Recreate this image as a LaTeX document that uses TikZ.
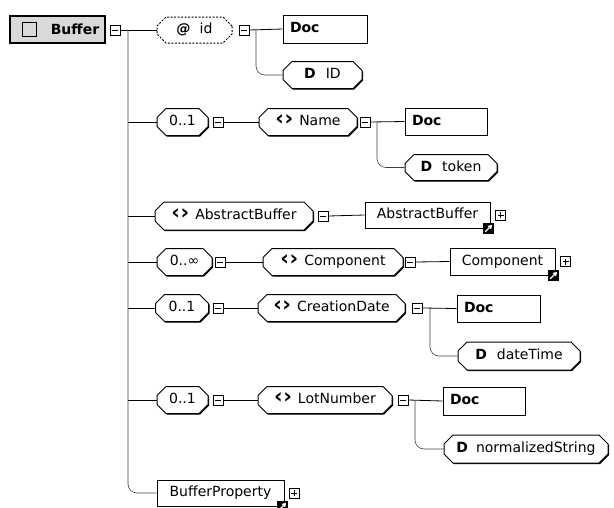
\documentclass[tikz,border=0pt]{standalone}
\usepackage{fontspec}
\setmainfont{DejaVu Sans}
\usetikzlibrary{shapes.misc,shadows,calc,arrows.meta}

% bold chevrons marking an element
\newcommand{\elmark}{{\fontsize{21}{21}\selectfont\bfseries ‹\kern0.5pt›}}

\begin{document}
\begin{tikzpicture}[x=1pt,y=-1pt,
  font=\fontsize{14}{16}\selectfont,
  edge/.style={draw=black, line width=0.8pt},
  branch/.style={draw=black!75, line width=0.6pt, rounded corners=9pt},
  base/.style={draw=black, line width=1pt, fill=white, inner sep=0pt,
    text height=10pt, text depth=2.5pt,
    drop shadow={shadow xshift=1pt, shadow yshift=-1pt, fill=black, opacity=1}},
  elem/.style={base, chamfered rectangle, chamfered rectangle xsep=4.5pt,
    chamfered rectangle ysep=4.5pt, minimum height=27pt},
  attr/.style={draw=black, line width=1pt, fill=white, inner sep=0pt,
    text height=10pt, text depth=2.5pt, dash pattern=on 2pt off 1.5pt,
    chamfered rectangle, chamfered rectangle xsep=4.5pt,
    chamfered rectangle ysep=4.5pt, minimum height=26pt},
  docbox/.style={base, rectangle, minimum height=28pt, align=left,
    inner xsep=7pt, font=\fontsize{14}{16}\selectfont\bfseries},
  refbox/.style={base, rectangle, minimum height=27pt},
  minusbox/.style={draw=black, line width=0.8pt, fill=white, minimum size=10pt,
    inner sep=0pt,
    path picture={\draw[line width=0.8pt]
      ([xshift=2pt]path picture bounding box.west) --
      ([xshift=-2pt]path picture bounding box.east);}},
  plusbox/.style={minusbox,
    path picture={\draw[line width=0.8pt]
      ([xshift=2pt]path picture bounding box.west) --
      ([xshift=-2pt]path picture bounding box.east)
      ([yshift=2pt]path picture bounding box.south) --
      ([yshift=-2pt]path picture bounding box.north);}},
  linkicon/.style={fill=black, minimum size=11pt, inner sep=0pt,
    path picture={\draw[white, line width=1.1pt, -{Triangle[length=4pt,width=4.5pt]}]
      ([shift={(2.2pt,2.2pt)}]path picture bounding box.south west) --
      ([shift={(-1.8pt,-1.8pt)}]path picture bounding box.north east);}},
  bufbox/.style={draw=black, line width=1.4pt, fill=black!15,
    minimum width=95pt, minimum height=27pt, inner sep=0pt},
  checkbox/.style={draw=black, line width=1pt, minimum size=14pt, inner sep=0pt},
]
\useasboundingbox (0,0) rectangle (614,507);

% root element
\node[bufbox] (buf) at (57.5,29.5) {};
\node[checkbox] (chk) at (29.5,29.5) {};
\node[font=\fontsize{14}{16}\selectfont\bfseries, inner sep=0pt] (buft) at (75,29.5) {Buffer};
\node[minusbox] (bm) at (115,30) {};
\coordinate (tr) at (128,30);

% attribute id
\node[attr, minimum width=75pt] (id) at (194.5,30) {\textbf{\textit{@}}\hspace{9pt}id};
\node[minusbox] (idm) at (244,30) {};
\node[docbox, text width=70pt] (doc1) at (325,29) {Doc};
\node[elem, minimum width=79pt] (did) at (322.5,75) {\textbf{D}\hspace{10pt}ID};
\coordinate (b1) at (256,30);

% Name
\node[elem, minimum width=51pt] (c2) at (182.5,122) {0..1};
\node[minusbox] (c2m) at (218,122) {};
\node[elem, minimum width=98pt] (name) at (308,122) {\elmark\hspace{6pt}Name};
\node[minusbox] (namem) at (365,122) {};
\node[docbox, text width=68pt, minimum height=27pt] (doc2) at (446,121.5) {Doc};
\node[elem, minimum width=92pt, minimum height=26pt] (dtok) at (451,167.5) {\textbf{D}\hspace{10pt}token};
\coordinate (b2) at (377,122);

% AbstractBuffer
\node[elem, minimum width=158pt, minimum height=28pt] (abs) at (234,216) {\elmark\hspace{6pt}AbstractBuffer};
\node[minusbox] (absm) at (323,216) {};
\node[refbox, minimum width=125pt, minimum height=26pt] (absref) at (427.5,215) {AbstractBuffer\hspace{6pt}};
\node[linkicon] (absl) at ([xshift=-2pt]absref.south east) {};
\node[plusbox] (absp) at ([xshift=10pt]absref.east) {};

% Component
\node[elem, minimum width=55pt] (c4) at (184.5,262) {0..∞};
\node[minusbox] (c4m) at (220,262) {};
\node[elem, minimum width=140pt] (comp) at (333,262) {\elmark\hspace{6pt}Component};
\node[minusbox] (compm) at (410,262) {};
\node[refbox, minimum width=105pt] (compref) at (502.5,261.5) {Component\hspace{6pt}};
\node[linkicon] (compl) at ([xshift=-2pt]compref.south east) {};
\node[plusbox] (compp) at ([xshift=10pt]compref.east) {};

% CreationDate
\node[elem, minimum width=53pt] (c5) at (182,308) {0..1};
\node[minusbox] (c5m) at (218,308) {};
\node[elem, minimum width=147pt] (cdate) at (331.5,308) {\elmark\hspace{6pt}CreationDate};
\node[minusbox] (cdatem) at (417,308) {};
\node[docbox, text width=69pt, minimum height=27pt] (doc5) at (498.5,308.5) {Doc};
\node[elem, minimum width=122pt, minimum height=28pt] (dtime) at (519,356) {\textbf{D}\hspace{10pt}dateTime};
\coordinate (b5) at (430,308);

% LotNumber
\node[elem, minimum width=51pt] (c6) at (182.5,400) {0..1};
\node[minusbox] (c6m) at (218,400) {};
\node[elem, minimum width=134pt] (lot) at (325,400) {\elmark\hspace{6pt}LotNumber};
\node[minusbox] (lotm) at (403,400) {};
\node[docbox, text width=68pt] (doc6) at (484,401) {Doc};
\node[elem, minimum width=164pt, minimum height=28pt] (nstr) at (526,449) {\textbf{D}\hspace{8pt}normalizedString};
\coordinate (b6) at (415,400);

% BufferProperty
\node[refbox, minimum width=127pt, minimum height=26pt] (bp) at (220.5,493) {BufferProperty\hspace{4pt}};
\node[linkicon] (bpl) at ([xshift=-2pt]bp.south east) {};
\node[plusbox] (bpp) at ([xshift=9.5pt]bp.east) {};

% connectors
\draw[edge] (bm.east) -- (id.west);
\draw[branch] (tr) |- (bp.west);
\draw[edge] (tr |- c2.west) -- (c2.west);
\draw[edge] (tr |- abs.west) -- (abs.west);
\draw[edge] (tr |- c4.west) -- (c4.west);
\draw[edge] (tr |- c5.west) -- (c5.west);
\draw[edge] (tr |- c6.west) -- (c6.west);

\draw[edge] (idm.east) -- (doc1.west);
\draw[branch] (b1) |- (did.west);

\draw[edge] (c2m.east) -- (name.west);
\draw[edge] (namem.east) -- (doc2.west);
\draw[branch] (b2) |- (dtok.west);

\draw[edge] (absm.east) -- (absref.west);

\draw[edge] (c4m.east) -- (comp.west);
\draw[edge] (compm.east) -- (compref.west);

\draw[edge] (c5m.east) -- (cdate.west);
\draw[edge] (cdatem.east) -- (doc5.west);
\draw[branch] (b5) |- (dtime.west);

\draw[edge] (c6m.east) -- (lot.west);
\draw[edge] (lotm.east) -- (doc6.west);
\draw[branch] (b6) |- (nstr.west);
\end{tikzpicture}
\end{document}
